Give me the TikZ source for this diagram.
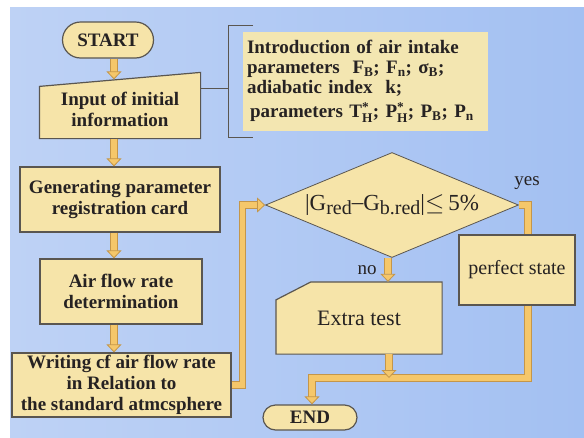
\documentclass[tikz,border=0pt]{standalone}
\usepackage{amsmath}
\usepackage{fontspec}
\setmainfont{Liberation Serif}
\usepackage{tikz}
\usetikzlibrary{shapes.geometric,shapes.misc,arrows.meta,backgrounds}

\definecolor{boxfill}{HTML}{F6E4A9}
\definecolor{infofill}{HTML}{F3E6B1}
\definecolor{pipefill}{HTML}{F5C76A}
\definecolor{pipeedge}{HTML}{C4964A}
\definecolor{lineclr}{HTML}{5A5650}
\definecolor{ink}{HTML}{262222}
\definecolor{bgleft}{HTML}{BED2F5}
\definecolor{bgmid}{HTML}{EAF0FB}
\definecolor{bgright}{HTML}{A3C0F2}

\tikzset{
  box/.style={rectangle, draw=lineclr, line width=1.2pt, fill=boxfill, text=ink,
    align=center, inner sep=2pt, font=\bfseries\fontsize{19}{21}\selectfont},
  term/.style={box, rounded rectangle},
  plain/.style={text=ink, inner sep=1pt, font=\fontsize{19}{21}\selectfont},
  pipe/.style={draw=pipeedge, line width=0.8pt, double=pipefill, double distance=5.5pt},
  fat/.style={pipe, -{Triangle[length=8pt,width=15pt,fill=pipefill]}},
}

\begin{document}
\begin{tikzpicture}[x=1pt,y=-1pt]
\useasboundingbox (0,0) rectangle (584,437);
\begin{scope}[on background layer]
\fill[white] (0,0) rectangle (584,437);
\shade[left color=bgleft, middle color=bgmid, right color=bgright] (10,7) rectangle (584,437);
\end{scope}

% left column
\node[term, minimum width=95pt, minimum height=36pt] (start) at (108,40) {START};
\node[box, draw=none, fill=none, minimum width=160pt, minimum height=58pt] (input) at (120,109) {Input of initial\\information};
\node[box, minimum width=200pt, minimum height=65pt] (gen) at (120,199.5) {Generating parameter\\registration card};
\node[box, minimum width=162pt, minimum height=65pt] (air) at (121,291.5) {Air flow rate\\determination};
\node[box, minimum width=219pt, minimum height=64pt] (write) at (121.5,385) {Writing cf air flow rate\\in Relation to\\the standard atmcsphere};

% parameters
\node[fill=infofill, text=ink, text width=237pt, minimum height=99pt, align=left, inner sep=4pt,
  font=\bfseries\fontsize{19}{20}\selectfont] (info) at (365.5,81.5)
  {Introduction of air intake\\
   parameters~~F\textsubscript{B}; F\textsubscript{n}; σ\textsubscript{B};\\
   adiabatic index~~k;\\[4pt]
   \,parameters T$^{\text{*}}_{\text{H}}$; P$^{\text{*}}_{\text{H}}$; P\textsubscript{B}; P\textsubscript{n}};
\coordinate (brace) at (228,88);
\draw[lineclr, line width=1pt] (253,25) -- (228,25) -- (228,137) -- (253,137);
\draw[lineclr, line width=1pt] ([yshift=21pt]input.east) -- (brace);

% right part
\node[box, diamond, aspect=2.4, line width=0.8pt, inner sep=0pt, minimum width=253pt, minimum height=105pt,
  font=\fontsize{23}{25}\selectfont] (test) at (392,205)
  {|G\raisebox{-4pt}{\fontsize{20}{20}\selectfont red}\raisebox{1pt}{–}G\raisebox{-4pt}{\fontsize{20}{20}\selectfont b.red}|$\leq$\,5\%};
\node[box, minimum width=116pt, minimum height=70pt, font=\fontsize{20}{22}\selectfont] (perfect) at (517,270) {perfect state};
\node[box, draw=none, fill=none, minimum width=165pt, minimum height=71pt, font=\fontsize{22}{24}\selectfont] (extra) at (359,318) {Extra test};
\node[term, minimum width=96pt, minimum height=25pt, inner sep=1pt] (end) at (310,417.5) {END};
\node[plain] (no) at (367,270) {no};
\node[plain] (yes) at (527,183) {yes};

\begin{scope}[on background layer]
\draw[lineclr, line width=1.2pt, fill=boxfill] (input.south west) -- (input.south east)
  -- ([yshift=7pt]input.north east) -- ([yshift=-7pt]input.north west) -- cycle;
\draw[lineclr, line width=1.2pt, fill=boxfill] (extra.south west) -- (extra.south east)
  -- (extra.north east) -- ([xshift=35pt]extra.north west) -- ([yshift=-18pt]extra.north west) -- cycle;
\end{scope}

% flow
\coordinate (join) at (312,378);
\draw[fat] ([xshift=6pt]start.south) -- ([xshift=6pt]start.south |- input.north);
\draw[fat] ([xshift=-6pt]input.south) -- ([xshift=-6pt]input.south |- gen.north);
\draw[fat] ([xshift=-6pt]gen.south) -- ([xshift=-6pt]gen.south |- air.north);
\draw[fat] ([xshift=-7pt]air.south) -- ([xshift=-7pt]air.south |- write.north);
\draw[fat] (write.east) -- ++(11,0) |- (test.west);
\draw[pipe] (test.east) -| ([xshift=11pt]perfect.north);
\draw[fat] ([xshift=-4pt]test.south) -- ([xshift=-4pt]test.south |- extra.north);
\draw[fat] ([xshift=11pt]perfect.south) |- (join) -- (join |- end.north);
\draw[fat] ([xshift=30pt]extra.south) -- ([xshift=30pt]extra.south |- join);

\end{tikzpicture}
\end{document}
